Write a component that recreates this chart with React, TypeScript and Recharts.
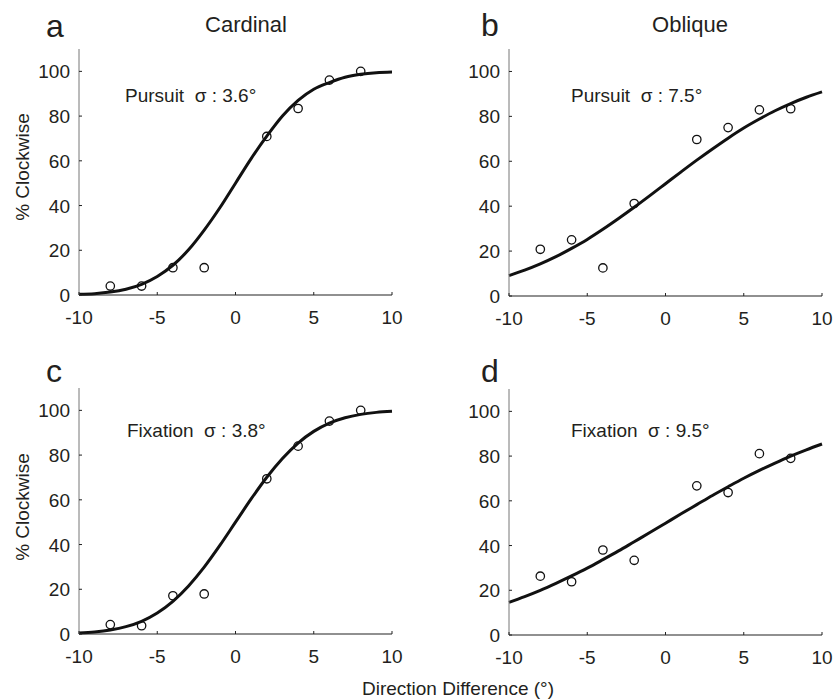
import React from "react";
import { ComposedChart, Line, Scatter, XAxis, YAxis } from "recharts";

const FONT = '"Liberation Sans", Arial, Helvetica, sans-serif';
const INK = "#231f20";

const trialX = [-8, -6, -4, -2, 2, 4, 6, 8];
const cardinalPursuit = [4, 4, 12.2, 12.2, 70.9, 83.4, 96.1, 100];
const obliquePursuit = [20.8, 25, 12.5, 41.2, 69.7, 75, 82.9, 83.4];
const cardinalFixation = [4.2, 3.7, 17.1, 17.9, 69.4, 84, 95.2, 100];
const obliqueFixation = [26.3, 23.8, 38, 33.4, 66.7, 63.7, 81.1, 79];

// fitted curves at each degree
const fitX = [-10, -9, -8, -7, -6, -5, -4, -3, -2, -1, 0, 1, 2, 3, 4, 5, 6, 7, 8, 9, 10];
const fitCardinalPursuit = [0.3, 0.6, 1.3, 2.6, 4.8, 8.3, 13.3, 20.2, 29, 39, 50, 61, 71, 80, 87, 92, 95, 97.4, 98.7, 99.4, 99.7];
const fitObliquePursuit = [9.1, 11.5, 14.3, 17.5, 21.2, 25.2, 29.7, 34.5, 39.5, 44.7, 50, 55.3, 60.5, 65.5, 70.3, 74.8, 78.8, 82.5, 85.7, 88.5, 90.9];
const fitCardinalFixation = [0.4, 0.9, 1.8, 3.3, 5.7, 9.4, 14.6, 21.5, 29.9, 39.6, 50, 60.4, 70.1, 78.5, 85.4, 90.6, 94.3, 96.7, 98.2, 99.1, 99.6];
const fitObliqueFixation = [14.6, 17.2, 20, 23.1, 26.4, 29.9, 33.7, 37.6, 41.7, 45.8, 50, 54.2, 58.3, 62.4, 66.3, 70.1, 73.6, 76.9, 80, 82.8, 85.4];

const xTicks = [-10, -5, 0, 5, 10];
const yTicks = [0, 20, 40, 60, 80, 100];

const toRows = (xs: number[], ys: number[]) => xs.map((x, i) => ({ x, y: ys[i] }));

const XTick = (props: any) => {
  const { x, y, payload } = props;
  return (
    <g>
      <line x1={x} x2={x} y1={y} y2={y - 3} stroke="#222" strokeWidth={1} />
      <text x={x} y={y + 29} textAnchor="middle" fontSize={19} fontFamily={FONT} fill={INK}>
        {payload.value}
      </text>
    </g>
  );
};

const YTick = (props: any) => {
  const { x, y, payload } = props;
  return (
    <g>
      <line x1={x} x2={x + 3} y1={y} y2={y} stroke="#222" strokeWidth={1} />
      <text x={x - 9} y={y + 7} textAnchor="end" fontSize={19} fontFamily={FONT} fill={INK}>
        {payload.value}
      </text>
    </g>
  );
};

const Circle = (p: any) => (
  <circle cx={p.cx} cy={p.cy} r={4.2} fill="none" stroke="#111" strokeWidth={1.3} />
);

type PanelProps = {
  left: number;
  top: number;
  margin: { top: number; right: number; bottom: number; left: number };
  points: number[];
  fit: number[];
};

function Panel({ left, top, margin, points, fit }: PanelProps) {
  return (
    <div style={{ position: "absolute", left, top }}>
      <ComposedChart width={420} height={340} margin={margin}>
        <XAxis
          type="number"
          dataKey="x"
          domain={[-10, 10]}
          ticks={xTicks}
          height={30}
          tickSize={0}
          tickMargin={0}
          tickLine={false}
          axisLine={{ stroke: "#222", strokeWidth: 1.2 }}
          tick={<XTick />}
          interval={0}
        />
        <YAxis
          type="number"
          dataKey="y"
          domain={[0, 110]}
          ticks={yTicks}
          width={40}
          tickSize={0}
          tickMargin={0}
          tickLine={false}
          axisLine={{ stroke: "#777", strokeWidth: 1 }}
          tick={<YTick />}
          interval={0}
        />
        <Line
          data={toRows(fitX, fit)}
          dataKey="y"
          type="monotone"
          stroke="#111"
          strokeWidth={3}
          dot={false}
          activeDot={false}
          isAnimationActive={false}
        />
        <Scatter data={toRows(trialX, points)} dataKey="y" shape={<Circle />} isAnimationActive={false} />
      </ComposedChart>
    </div>
  );
}

export default function App() {
  const txt = { fontFamily: FONT, fill: INK } as const;
  return (
    <div style={{ position: "absolute", left: 0, top: 0, width: 835, height: 700, background: "#fff" }}>
      <Panel left={0} top={0} margin={{ top: 49, right: 28, bottom: 15, left: 39 }} points={cardinalPursuit} fit={fitCardinalPursuit} />
      <Panel left={415} top={0} margin={{ top: 49, right: 13, bottom: 14, left: 54 }} points={obliquePursuit} fit={fitObliquePursuit} />
      <Panel left={0} top={340} margin={{ top: 48, right: 28, bottom: 16, left: 39 }} points={cardinalFixation} fit={fitCardinalFixation} />
      <Panel left={415} top={340} margin={{ top: 49, right: 13, bottom: 15, left: 54 }} points={obliqueFixation} fit={fitObliqueFixation} />
      <svg width={835} height={700} style={{ position: "absolute", left: 0, top: 0, pointerEvents: "none" }}>
        <text x={46} y={37} fontSize={32} {...txt}>a</text>
        <text x={481} y={36} fontSize={32} {...txt}>b</text>
        <text x={46} y={382} fontSize={32} {...txt}>c</text>
        <text x={481} y={382} fontSize={32} {...txt}>d</text>
        <text x={246} y={32} fontSize={22} textAnchor="middle" {...txt}>Cardinal</text>
        <text x={690} y={32} fontSize={22} textAnchor="middle" {...txt}>Oblique</text>
        <text x={125} y={102} fontSize={19} style={{ whiteSpace: "pre" }} {...txt}>Pursuit  σ : 3.6°</text>
        <text x={571} y={102} fontSize={19} style={{ whiteSpace: "pre" }} {...txt}>Pursuit  σ : 7.5°</text>
        <text x={127} y={437} fontSize={19} style={{ whiteSpace: "pre" }} {...txt}>Fixation  σ : 3.8°</text>
        <text x={571} y={437} fontSize={19} style={{ whiteSpace: "pre" }} {...txt}>Fixation  σ : 9.5°</text>
        <text x={22} y={167} fontSize={19} textAnchor="middle" transform="rotate(-90 22 167)" dominantBaseline="central" {...txt}>% Clockwise</text>
        <text x={22} y={507} fontSize={19} textAnchor="middle" transform="rotate(-90 22 507)" dominantBaseline="central" {...txt}>% Clockwise</text>
        <text x={458} y={695} fontSize={19} textAnchor="middle" {...txt}>Direction Difference (°)</text>
      </svg>
    </div>
  );
}
